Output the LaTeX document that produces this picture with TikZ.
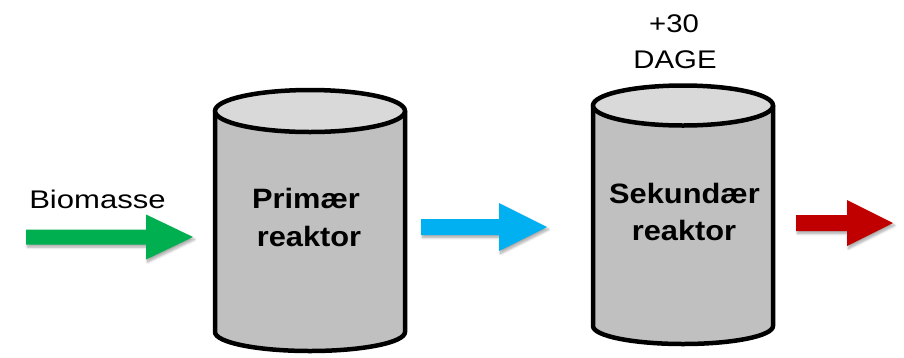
\documentclass[tikz,border=0pt]{standalone}
\usepackage{fontspec}
\setmainfont{Liberation Sans}
\usetikzlibrary{shadows.blur}

\definecolor{flowgreen}{HTML}{00B050}
\definecolor{flowblue}{HTML}{00B0F0}
\definecolor{flowred}{HTML}{C00000}
\definecolor{tankbody}{HTML}{C0C0C0}
\definecolor{tanktop}{HTML}{D9D9D9}

\tikzset{
  tank line/.style={line width=4.5pt, line join=round, line cap=round},
  label text/.style={font=\fontsize{25.5}{30}\selectfont, xscale=1.15, inner sep=0pt, anchor=base},
  tank text/.style={font=\fontsize{28}{37}\selectfont\bfseries, xscale=1.1, inner sep=0pt, anchor=base},
  block shadow/.style={blur shadow={shadow xshift=1.5pt, shadow yshift=-2.5pt, shadow blur steps=6, shadow opacity=35, shadow blur radius=2.5pt}},
}

% block arrow: colour, shaft start, head start, tip, centre y, shaft half width, head half width
\newcommand\blockarrow[7]{%
  \fill[#1, block shadow] (#2,#5-#6) -- (#3,#5-#6) -- (#3,#5-#7) -- (#4,#5)
    -- (#3,#5+#7) -- (#3,#5+#6) -- (#2,#5+#6) -- cycle;}

% tank: centre x, half width, top centre y, top radius y, bottom centre y, bottom radius y
\newcommand\tank[6]{%
  \fill[tankbody] (#1-#2,#3) -- (#1-#2,#5)
    arc[start angle=180, end angle=0, x radius=#2, y radius=#6] -- (#1+#2,#3) -- cycle;
  \draw[tank line] (#1-#2,#3) -- (#1-#2,#5)
    arc[start angle=180, end angle=0, x radius=#2, y radius=#6] -- (#1+#2,#3);
  \filldraw[tank line, fill=tanktop] (#1,#3) ellipse [x radius=#2, y radius=#4];}

\begin{document}
\begin{tikzpicture}[x=1pt, y=-1pt]
\useasboundingbox (0,0) rectangle (904,357);

% tanks
\tank{310}{95}{111}{21}{332}{19}
\tank{683}{90}{105.5}{20}{326}{18}

% tank captions
\node[tank text] (prim1) at (306,208) {Primær};
\node[tank text] (prim2) at (309,246) {reaktor};
\node[tank text] (sek1) at (684.5,203) {Sekundær};
\node[tank text] (sek2) at (684,240) {reaktor};

% flow arrows
\blockarrow{flowgreen}{26}{146}{193}{237}{7.5}{22.5}
\blockarrow{flowblue}{421}{499}{547}{227}{8}{24}
\blockarrow{flowred}{796}{847}{893}{223}{8}{23}

% labels
\node[label text, xscale=1.06] (feed) at (97.5,208) {Biomasse};
\node[label text] (days1) at (674,32) {+30};
\node[label text] (days2) at (675,68) {DAGE};
\end{tikzpicture}
\end{document}
